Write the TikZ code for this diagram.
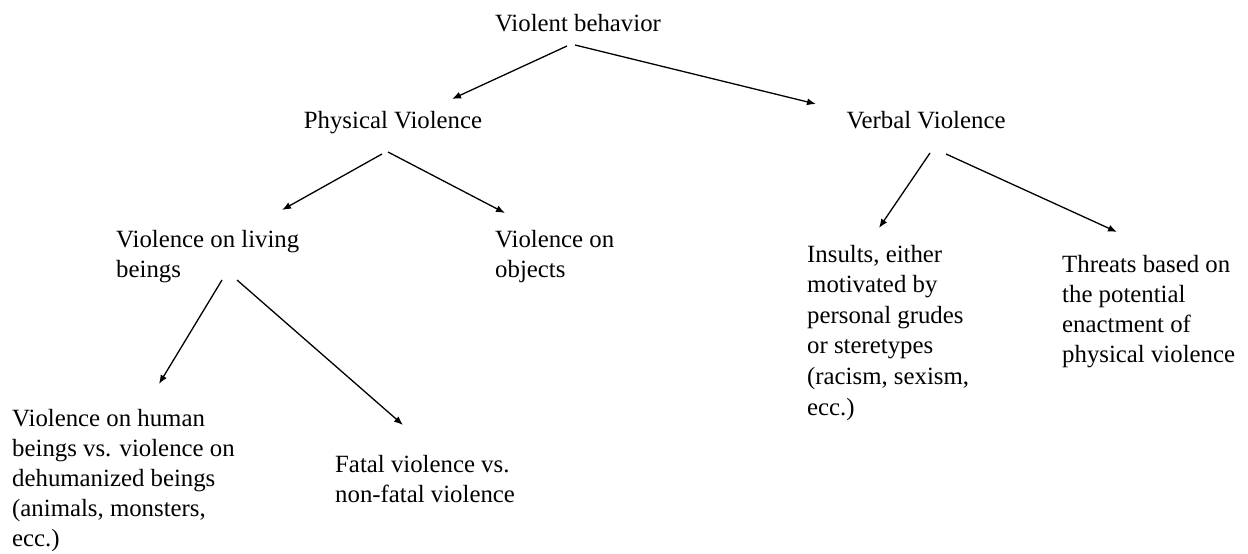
\documentclass[tikz,border=0pt]{standalone}
\usepackage{fontspec}
\setmainfont{Liberation Serif}
\usetikzlibrary{arrows.meta, calc}
\tikzset{
    >={Latex[length=9pt, width=7pt]},
    term/.style={inner sep=0pt, font=\fontsize{24.8}{30}\selectfont},
    heading/.style={term, anchor=base},
    leaf/.style={term, align=left, anchor=base west},
    branch/.style={->, line width=1.3pt},
}
\begin{document}
\begin{tikzpicture}[x=1pt, y=-1pt]
    \useasboundingbox (0,0) rectangle (1248,554);
    % top levels
    \node[heading] (vb) at (578,31) {Violent behavior};
    \node[heading] (pv) at (393,128) {Physical Violence};
    \node[heading] (verb) at (926,128) {Verbal Violence};
    % leaves (placed by the baseline of their last line)
    \node[leaf] (living) at (116,277) {Violence on living\\beings};
    \node[leaf] (objects) at (495,277) {Violence on\\objects};
    \node[leaf] (human) at (12,546) {Violence on human\\beings vs. violence on\\dehumanized beings\\(animals, monsters,\\ecc.)};
    \node[leaf] (fatal) at (335,502) {Fatal violence vs.\\non-fatal violence};
    \node[leaf, font=\fontsize{24.8}{30.6}\selectfont] (insults) at (807,415) {Insults, either\\motivated by\\personal grudes\\or steretypes\\(racism, sexism,\\ecc.)};
    \node[leaf] (threats) at (1062,362) {Threats based on\\the potential\\enactment of\\physical violence};
    % arrows
    \draw[branch] ($(vb.base)+(-11,15)$) -- ($(pv.base)+(59,-29)$);
    \draw[branch] ($(vb.base)+(-3,14)$) -- ($(verb.base)+(-110,-24)$);
    \draw[branch] ($(pv.base)+(-11,26)$) -- ($(living.base west)+(166,-67)$);
    \draw[branch] ($(pv.base)+(-5,24)$) -- ($(objects.base west)+(10,-64)$);
    \draw[branch] ($(living.base west)+(106,3)$) -- ($(human.base west)+(147,-162)$);
    \draw[branch] ($(living.base west)+(121,3)$) -- ($(fatal.base west)+(68,-77)$);
    \draw[branch] ($(verb.base)+(4,25)$) -- ($(insults.base west)+(72,-187)$);
    \draw[branch] ($(verb.base)+(20,26)$) -- ($(threats.base west)+(55,-130)$);
\end{tikzpicture}
\end{document}
